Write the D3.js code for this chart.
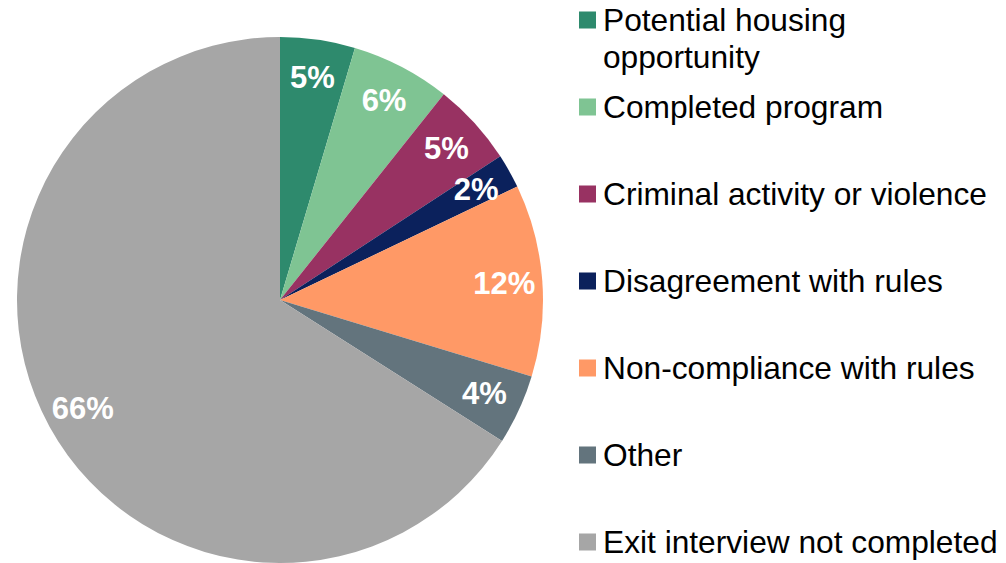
<!DOCTYPE html>
<html>
<head>
<meta charset="utf-8">
<script src="https://cdn.jsdelivr.net/npm/d3@7"></script>
<style>
  body { margin: 0; background: #fff; }
  svg { display: block; font-family: "Liberation Sans", Arial, sans-serif; }
</style>
</head>
<body>
<svg id="chart" width="1006" height="563"></svg>
<script>
// data
var categories = ["Potential housing opportunity", "Completed program", "Criminal activity or violence",
                  "Disagreement with rules", "Non-compliance with rules", "Other", "Exit interview not completed"];
var legendLines = [["Potential housing", "opportunity"], ["Completed program"], ["Criminal activity or violence"],
                   ["Disagreement with rules"], ["Non-compliance with rules"], ["Other"], ["Exit interview not completed"]];
var values = [4.6, 6.1, 5.1, 2.1, 11.8, 4.3, 66.0];
var colors = ["#2e8a6d", "#7fc493", "#983262", "#0b215c", "#ff9966", "#63747d", "#a6a6a6"];

var svg = d3.select("#chart");
var cx = 280, cy = 300, radius = 263, labelRadius = 225;

var pie = d3.pie().sort(null).value(function(d) { return d; });
var arc = d3.arc().innerRadius(0).outerRadius(radius);
var labelArc = d3.arc().innerRadius(labelRadius).outerRadius(labelRadius);

var arcs = pie(values);

var g = svg.append("g").attr("transform", "translate(" + cx + "," + cy + ")");

g.selectAll("path.slice")
    .data(arcs)
    .enter().append("path")
    .attr("class", "slice")
    .attr("d", arc)
    .attr("fill", function(d, i) { return colors[i]; });

g.selectAll("text.pct")
    .data(arcs)
    .enter().append("text")
    .attr("class", "pct")
    .attr("transform", function(d) { return "translate(" + labelArc.centroid(d) + ")"; })
    .attr("text-anchor", "middle")
    .attr("dy", "0.34em")
    .style("font-size", "31px")
    .style("font-weight", "bold")
    .style("fill", "#fff")
    .text(function(d) { return Math.round(d.data) + "%"; });

// legend
var legendY = d3.scalePoint().domain(d3.range(categories.length)).range([20, 542]);
var legend = svg.append("g").attr("class", "legend");

var items = legend.selectAll("g.item")
    .data(categories)
    .enter().append("g")
    .attr("class", "item")
    .attr("transform", function(d, i) {
        var y = i == 0 ? 20 : legendY(i);
        return "translate(579," + y + ")";
    });

items.append("rect")
    .attr("x", 0).attr("y", -8.5)
    .attr("width", 17).attr("height", 17)
    .attr("fill", function(d, i) { return colors[i]; });

items.append("text")
    .attr("x", 24)
    .attr("y", 11)
    .style("font-size", "31.7px")
    .style("fill", "#000")
    .each(function(d, i) {
        var t = d3.select(this);
        legendLines[i].forEach(function(line, j) {
            t.append("tspan").attr("x", 24).attr("dy", j == 0 ? 0 : 37).text(line);
        });
    });
</script>
</body>
</html>
